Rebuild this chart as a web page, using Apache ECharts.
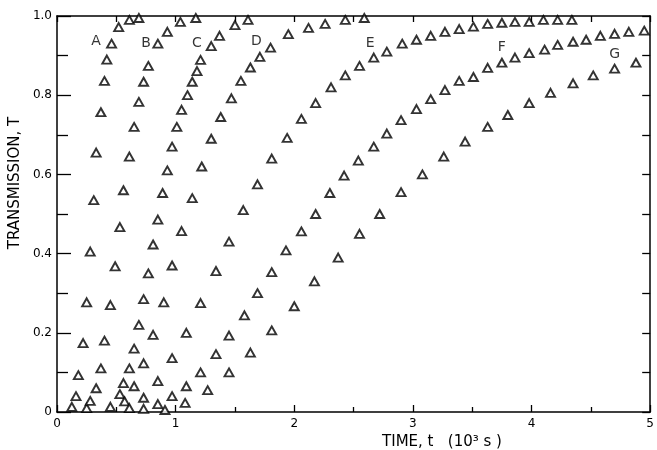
<!DOCTYPE html>
<html><head><meta charset="utf-8">
<script src="https://cdn.jsdelivr.net/npm/echarts@6/dist/echarts.min.js"></script>
<style>html,body{margin:0;padding:0;background:#fff}#c{width:657px;height:450px}</style>
</head><body><div id="c"></div>
<script>
// time t (10^3 s), transmission T
const seriesA = [[0.125,0.013],[0.16,0.04],[0.18,0.093],[0.22,0.174],[0.25,0.277],[0.28,0.405],[0.31,0.535],[0.33,0.655],[0.37,0.757],[0.40,0.836],[0.42,0.89],[0.46,0.93],[0.52,0.972],[0.61,0.99],[0.69,0.995]];
const seriesB = [[0.25,0.01],[0.28,0.028],[0.33,0.06],[0.37,0.11],[0.40,0.18],[0.45,0.27],[0.49,0.368],[0.53,0.467],[0.56,0.56],[0.61,0.645],[0.65,0.72],[0.69,0.783],[0.73,0.834],[0.77,0.874],[0.85,0.93],[0.93,0.96],[1.04,0.985],[1.17,0.995]];
const seriesC = [[0.45,0.013],[0.53,0.045],[0.56,0.073],[0.61,0.11],[0.65,0.16],[0.69,0.22],[0.73,0.285],[0.77,0.35],[0.81,0.423],[0.85,0.486],[0.89,0.553],[0.93,0.61],[0.97,0.67],[1.01,0.72],[1.05,0.763],[1.10,0.80],[1.14,0.834],[1.18,0.861],[1.21,0.889],[1.30,0.924],[1.37,0.95],[1.50,0.977],[1.61,0.99]];
const seriesD = [[0.57,0.027],[0.65,0.065],[0.73,0.123],[0.81,0.195],[0.90,0.277],[0.97,0.37],[1.05,0.457],[1.14,0.54],[1.22,0.62],[1.30,0.69],[1.38,0.745],[1.47,0.792],[1.55,0.836],[1.63,0.87],[1.71,0.897],[1.80,0.92],[1.95,0.954],[2.12,0.97],[2.26,0.98],[2.43,0.99],[2.59,0.995]];
const seriesE = [[0.61,0.01],[0.73,0.036],[0.85,0.078],[0.97,0.136],[1.09,0.20],[1.21,0.275],[1.34,0.356],[1.45,0.43],[1.57,0.51],[1.69,0.575],[1.81,0.64],[1.94,0.692],[2.06,0.74],[2.18,0.78],[2.31,0.82],[2.43,0.85],[2.55,0.874],[2.67,0.895],[2.78,0.91],[2.91,0.93],[3.03,0.94],[3.15,0.95],[3.27,0.96],[3.39,0.967],[3.51,0.973],[3.63,0.98],[3.75,0.983],[3.86,0.985],[3.98,0.985],[4.10,0.99],[4.22,0.99],[4.34,0.99]];
const seriesF = [[0.73,0.008],[0.85,0.02],[0.97,0.04],[1.09,0.065],[1.21,0.10],[1.34,0.146],[1.45,0.193],[1.58,0.244],[1.69,0.30],[1.81,0.353],[1.93,0.408],[2.06,0.456],[2.18,0.50],[2.30,0.553],[2.42,0.597],[2.54,0.635],[2.67,0.67],[2.78,0.703],[2.90,0.737],[3.03,0.765],[3.15,0.79],[3.27,0.813],[3.39,0.836],[3.51,0.846],[3.63,0.869],[3.75,0.882],[3.86,0.895],[3.98,0.906],[4.11,0.915],[4.22,0.927],[4.35,0.935],[4.46,0.94],[4.58,0.95],[4.70,0.955],[4.82,0.96],[4.95,0.963]];
const seriesG = [[0.91,0.005],[1.08,0.023],[1.27,0.055],[1.45,0.10],[1.63,0.15],[1.81,0.206],[2.00,0.267],[2.17,0.33],[2.37,0.39],[2.55,0.45],[2.72,0.50],[2.90,0.555],[3.08,0.60],[3.26,0.645],[3.44,0.683],[3.63,0.72],[3.80,0.75],[3.98,0.78],[4.16,0.806],[4.35,0.83],[4.52,0.85],[4.70,0.867],[4.88,0.882]];
const seriesNames = ['A','B','C','D','E','F','G'];
const curveLabelT = [0.33,0.75,1.18,1.68,2.64,3.75,4.70];
const curveLabelTr = [0.935,0.932,0.93,0.935,0.93,0.92,0.904];
const yTickLabels = ['0','0.2','0.4','0.6','0.8','1.0'];
const xTickLabels = ['0','1','2','3','4','5'];
const xTitle = 'TIME, t   (10\u00B3 s )';
const yTitle = 'TRANSMISSION, T';

const FONT = 'DejaVu Sans';
const allSeries = [seriesA,seriesB,seriesC,seriesD,seriesE,seriesF,seriesG];
const chart = echarts.init(document.getElementById('c'));
const line = {color:'#000', width:1.5};
const tickLine = {color:'#000', width:1.3};
function xAx(pos, showLabel, tickLen, minorLen){
  return {type:'value', min:0, max:5, interval:1, position:pos,
    axisLine:{show:true, onZero:false, lineStyle:line},
    axisTick:{show:true, inside:true, length:tickLen, lineStyle:tickLine},
    minorTick:{show:true, splitNumber:2, length:minorLen, lineStyle:tickLine},
    axisLabel:{show:showLabel, color:'#000', fontSize:12, fontFamily:FONT, margin:6,
      formatter:v=>xTickLabels[Math.round(v)]},
    splitLine:{show:false}, minorSplitLine:{show:false}};
}
function yAx(pos, showLabel, tickLen, minorLen){
  return {type:'value', min:0, max:1, interval:0.2, position:pos,
    axisLine:{show:true, onZero:false, lineStyle:line},
    axisTick:{show:true, inside:true, length:tickLen, lineStyle:tickLine},
    minorTick:{show:true, splitNumber:2, length:minorLen, lineStyle:tickLine},
    axisLabel:{show:showLabel, color:'#000', fontSize:12, fontFamily:FONT, margin:5,
      formatter:v=>yTickLabels[Math.round(v/0.2)]},
    splitLine:{show:false}, minorSplitLine:{show:false}};
}
const series = allSeries.map((d,i)=>({
  type:'scatter', name:seriesNames[i], xAxisIndex:0, yAxisIndex:0,
  data:d, symbol:'triangle', symbolSize:[9,8],
  itemStyle:{color:'#fff', borderColor:'#000', borderWidth:1.9}
}));
series.push({
  type:'scatter', name:'labels', xAxisIndex:0, yAxisIndex:0, silent:true,
  symbolSize:1, itemStyle:{color:'transparent'},
  data:seriesNames.map((n,i)=>({name:n, value:[curveLabelT[i], curveLabelTr[i]]})),
  label:{show:true, position:'inside', formatter:'{b}', color:'#000', fontSize:14, fontFamily:FONT}
});
chart.setOption({
  animation:false,
  backgroundColor:'#fff',
  grid:{left:57, right:2, top:16, bottom:38},
  xAxis:[xAx('bottom', true, 7, 5), xAx('top', false, 6, 6)],
  yAxis:[yAx('left', true, 14, 11), yAx('right', false, 8, 8)],
  series:series,
  graphic:[
    {type:'text', x:442, y:442, style:{text:xTitle, fontSize:15, fontFamily:FONT, fill:'#000', align:'center', verticalAlign:'middle'}},
    {type:'text', x:15, y:183, rotation:Math.PI/2, style:{text:yTitle, fontSize:15, fontFamily:FONT, fill:'#000', align:'center', verticalAlign:'middle'}}
  ]
});
</script></body></html>
